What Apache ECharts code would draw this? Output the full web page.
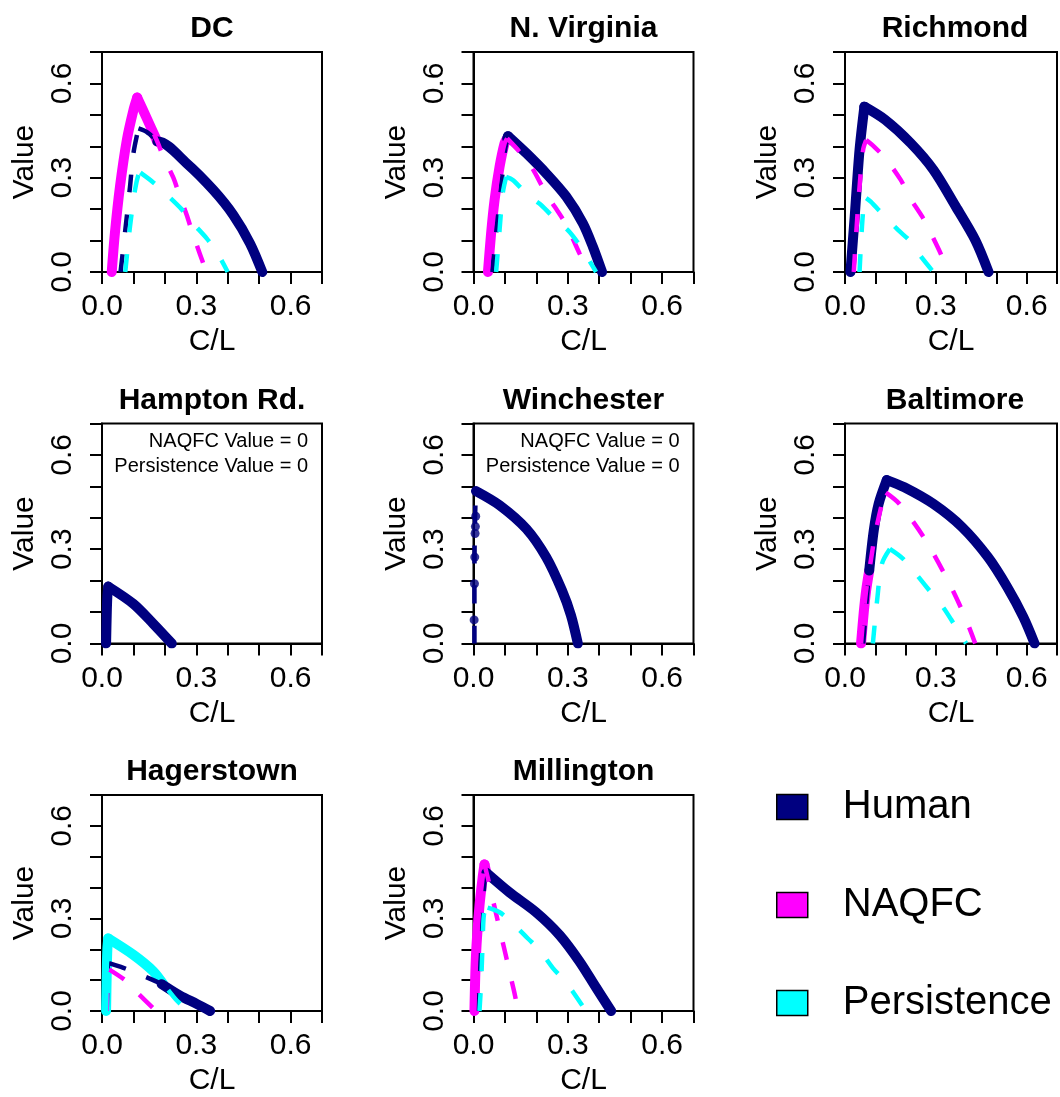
<!DOCTYPE html>
<html>
<head>
<meta charset="utf-8">
<script src="https://cdn.jsdelivr.net/npm/echarts@6/dist/echarts.min.js"></script>
<style>
html,body{margin:0;padding:0;background:#fff;}
#chart{width:1060px;height:1097px;}
</style>
</head>
<body>
<div id="chart"></div>
<script>
// ---------- DATA ----------
const panelNames = ['DC', 'N. Virginia', 'Richmond', 'Hampton Rd.', 'Winchester', 'Baltimore', 'Hagerstown', 'Millington'];
const modelNames = ['Human', 'NAQFC', 'Persistence'];
const tickValues = [0, 0.3, 0.6];
const tickLabels = ['0.0', '0.3', '0.6'];
const zeroValueNote = 'NAQFC Value = 0\nPersistence Value = 0';

// DC
const dcHuman = [[0.059,0],[0.073,0.123],[0.089,0.27],[0.1,0.378],[0.116,0.457],[0.142,0.446],[0.179,0.415],[0.269,0.346],[0.354,0.261],[0.418,0.181],[0.471,0.091],[0.51,0]];
const dcNaqfc = [[0.031,0],[0.041,0.123],[0.057,0.27],[0.079,0.42],[0.1,0.515],[0.112,0.555],[0.142,0.49],[0.176,0.415],[0.195,0.367],[0.227,0.3],[0.248,0.24],[0.269,0.183],[0.29,0.118],[0.312,0.056],[0.332,0]];
const dcPers = [[0.074,0],[0.089,0.144],[0.105,0.261],[0.116,0.31],[0.122,0.316],[0.163,0.285],[0.206,0.246],[0.253,0.2],[0.288,0.157],[0.333,0.107],[0.365,0.064],[0.40,0]];
const dcEnvNaqfc = [[0.031,0],[0.041,0.123],[0.057,0.27],[0.079,0.42],[0.1,0.515],[0.112,0.555],[0.142,0.49],[0.176,0.415]];
const dcEnvHuman = [[0.176,0.415],[0.179,0.415],[0.269,0.346],[0.354,0.261],[0.418,0.181],[0.471,0.091],[0.51,0]];

// N. Virginia
const nvHuman = [[0.059,0],[0.072,0.123],[0.088,0.271],[0.099,0.378],[0.107,0.425],[0.11,0.432],[0.168,0.378],[0.231,0.314],[0.295,0.24],[0.348,0.155],[0.38,0.08],[0.409,0]];
const nvNaqfc = [[0.046,0],[0.056,0.123],[0.067,0.229],[0.083,0.335],[0.099,0.41],[0.107,0.425],[0.146,0.383],[0.184,0.335],[0.231,0.25],[0.295,0.15],[0.337,0.06],[0.369,0]];
const nvPers = [[0.072,0],[0.083,0.134],[0.093,0.25],[0.104,0.303],[0.125,0.293],[0.178,0.24],[0.215,0.213],[0.263,0.165],[0.305,0.128],[0.348,0.07],[0.38,0.017],[0.39,0]];
const nvEnvNaqfc = [[0.046,0],[0.056,0.123],[0.067,0.229],[0.083,0.335],[0.099,0.41],[0.107,0.425]];
const nvEnvHuman = [[0.107,0.425],[0.11,0.432],[0.168,0.378],[0.231,0.314],[0.295,0.24],[0.348,0.155],[0.38,0.08],[0.409,0]];

// Richmond
const riHuman = [[0.018,0],[0.032,0.176],[0.048,0.388],[0.064,0.526],[0.133,0.484],[0.217,0.41],[0.292,0.325],[0.366,0.208],[0.43,0.102],[0.474,0]];
const riNaqfc = [[0.029,0],[0.037,0.123],[0.048,0.27],[0.06,0.39],[0.07,0.42],[0.095,0.40],[0.133,0.362],[0.184,0.293],[0.212,0.24],[0.255,0.176],[0.281,0.128],[0.318,0.054],[0.34,0]];
const riPers = [[0.048,0],[0.056,0.144],[0.064,0.229],[0.07,0.235],[0.085,0.224],[0.127,0.181],[0.175,0.134],[0.217,0.096],[0.255,0.044],[0.292,0]];
const riEnvHuman = riHuman;

// Hampton Rd.
const hrHuman = [[0.013,0],[0.015,0.09],[0.017,0.15],[0.02,0.181],[0.1,0.126],[0.163,0.063],[0.222,0]];
const hrEnvHuman = hrHuman;

// Winchester
const wiHuman = [[0.003,0],[0.003,0.2],[0.004,0.35],[0.006,0.44],[0.008,0.485],[0.083,0.44],[0.168,0.365],[0.231,0.275],[0.281,0.17],[0.31,0.09],[0.332,0]];
const wiEnvHuman = [[0.008,0.485],[0.083,0.44],[0.168,0.365],[0.231,0.275],[0.281,0.17],[0.31,0.09],[0.332,0]];
const wiEnvDots = [[0.002,0.075],[0.003,0.19],[0.004,0.275],[0.005,0.35],[0.006,0.372],[0.007,0.405]];

// Baltimore
const baHuman = [[0.06,0],[0.07,0.12],[0.08,0.232],[0.095,0.36],[0.111,0.444],[0.138,0.52],[0.196,0.497],[0.292,0.444],[0.387,0.37],[0.472,0.275],[0.536,0.179],[0.589,0.084],[0.626,0]];
const baNaqfc = [[0.053,0],[0.062,0.1],[0.07,0.17],[0.08,0.232],[0.1,0.35],[0.122,0.444],[0.135,0.48],[0.18,0.444],[0.26,0.338],[0.334,0.211],[0.392,0.094],[0.43,0]];
const baPers = [[0.092,0],[0.106,0.137],[0.122,0.254],[0.148,0.301],[0.191,0.27],[0.239,0.216],[0.27,0.179],[0.324,0.115],[0.35,0.077],[0.387,0.02],[0.40,0]];
const baEnvNaqfc = [[0.053,0],[0.062,0.1],[0.07,0.17],[0.08,0.232]];
const baEnvHuman = [[0.08,0.232],[0.095,0.36],[0.111,0.444],[0.138,0.52],[0.196,0.497],[0.292,0.444],[0.387,0.37],[0.472,0.275],[0.536,0.179],[0.589,0.084],[0.626,0]];

// Hagerstown
const haHuman = [[0.015,0],[0.017,0.1],[0.019,0.15],[0.022,0.155],[0.068,0.14],[0.121,0.118],[0.19,0.087],[0.248,0.05],[0.301,0.023],[0.344,0]];
const haNaqfc = [[0.015,0],[0.017,0.09],[0.019,0.13],[0.022,0.135],[0.076,0.098],[0.112,0.06],[0.172,0]];
const haPers = [[0.013,0],[0.015,0.12],[0.017,0.2],[0.02,0.235],[0.1,0.182],[0.163,0.129],[0.2,0.082],[0.238,0.034],[0.275,0]];
const haEnvPers = [[0.013,0],[0.015,0.12],[0.017,0.2],[0.02,0.235],[0.1,0.182],[0.163,0.129],[0.195,0.087]];
const haEnvHuman = [[0.19,0.087],[0.248,0.05],[0.301,0.023],[0.344,0]];

// Millington
const miHuman = [[0.014,0],[0.022,0.15],[0.03,0.33],[0.036,0.43],[0.041,0.448],[0.115,0.384],[0.199,0.32],[0.274,0.246],[0.337,0.161],[0.39,0.076],[0.438,0]];
const miNaqfc = [[0.003,0],[0.008,0.182],[0.019,0.341],[0.03,0.44],[0.035,0.475],[0.046,0.43],[0.056,0.385],[0.072,0.315],[0.088,0.245],[0.104,0.175],[0.115,0.125],[0.13,0.06],[0.142,0]];
const miPers = [[0.019,0],[0.024,0.087],[0.028,0.193],[0.032,0.3],[0.037,0.33],[0.045,0.335],[0.083,0.32],[0.12,0.289],[0.173,0.235],[0.21,0.198],[0.252,0.14],[0.295,0.092],[0.332,0.039],[0.358,0]];
const miEnvNaqfc = [[0.003,0],[0.008,0.182],[0.019,0.341],[0.03,0.44],[0.035,0.475],[0.041,0.448]];
const miEnvHuman = [[0.041,0.448],[0.115,0.384],[0.199,0.32],[0.274,0.246],[0.337,0.161],[0.39,0.076],[0.438,0]];

// table built from the arrays above
const panels = [
  {curves: {Human: dcHuman, NAQFC: dcNaqfc, Persistence: dcPers}, env: [['NAQFC', dcEnvNaqfc], ['Human', dcEnvHuman]]},
  {curves: {Human: nvHuman, NAQFC: nvNaqfc, Persistence: nvPers}, env: [['NAQFC', nvEnvNaqfc], ['Human', nvEnvHuman]]},
  {curves: {Human: riHuman, NAQFC: riNaqfc, Persistence: riPers}, env: [['Human', riEnvHuman]]},
  {curves: {Human: hrHuman}, env: [['Human', hrEnvHuman]], note: true},
  {curves: {Human: wiHuman}, env: [['Human', wiEnvHuman]], dots: [['Human', wiEnvDots]], note: true},
  {curves: {Human: baHuman, NAQFC: baNaqfc, Persistence: baPers}, env: [['NAQFC', baEnvNaqfc], ['Human', baEnvHuman]]},
  {curves: {Human: haHuman, NAQFC: haNaqfc, Persistence: haPers}, env: [['Persistence', haEnvPers], ['Human', haEnvHuman]]},
  {curves: {Human: miHuman, NAQFC: miNaqfc, Persistence: miPers}, env: [['NAQFC', miEnvNaqfc], ['Human', miEnvHuman]]}
];

// ---------- STYLE / LAYOUT ----------
const COLOR = {Human: '#000080', NAQFC: '#FF00FF', Persistence: '#00FFFF'};
const FONT = 'Liberation Sans, Arial, Helvetica, sans-serif';
const GX0 = 102, GY0 = 52, GSTEP = 371.5, GSIZE = 220;
const FS = 30;
const SMOOTH = 0.3;

function tickFmt(v) {
  const i = tickValues.findIndex(t => Math.abs(t - v) < 1e-6);
  return i >= 0 ? tickLabels[i] : '';
}

// split a read-off curve at its peak so each side can be smoothed without rounding the kink
function splitAtPeak(d) {
  let k = 0;
  d.forEach((p, j) => { if (p[1] > d[k][1]) k = j; });
  if (k > 0 && k < d.length - 1) return [d.slice(0, k + 1), d.slice(k)];
  return [d];
}

const grids = [], xAxes = [], yAxes = [], titles = [], series = [];
panelNames.forEach((name, i) => {
  const left = GX0 + GSTEP * (i % 3);
  const top = GY0 + GSTEP * Math.floor(i / 3);
  grids.push({left: left, top: top, width: GSIZE, height: GSIZE, show: true, borderColor: '#000', borderWidth: 2, backgroundColor: 'transparent', containLabel: false});
  const common = {
    gridIndex: i, type: 'value', min: 0, max: 0.7, interval: 0.1,
    splitLine: {show: false},
    axisLine: {show: true, onZero: false, lineStyle: {color: '#000', width: 2}},
    axisTick: {show: true, inside: false, length: 12, lineStyle: {color: '#000', width: 2}},
    nameLocation: 'middle',
    nameTextStyle: {fontSize: FS, color: '#000', fontFamily: FONT}
  };
  xAxes.push(Object.assign({}, common, {
    position: 'bottom', name: 'C/L', nameGap: 55,
    axisLabel: {formatter: tickFmt, fontSize: FS, color: '#000', fontFamily: FONT, margin: 20, showMinLabel: true, showMaxLabel: true}
  }));
  yAxes.push(Object.assign({}, common, {
    position: 'left', name: 'Value', nameGap: 62, nameRotate: 90,
    axisLabel: {formatter: tickFmt, fontSize: FS, color: '#000', fontFamily: FONT, margin: 24, rotate: 90, showMinLabel: true, showMaxLabel: true}
  }));
  titles.push({text: name, left: left + GSIZE / 2, top: top - 38, textAlign: 'center', padding: 0,
    textStyle: {fontSize: FS, fontWeight: 'bold', color: '#000', fontFamily: FONT}});
  const p = panels[i];
  if (p.note) {
    titles.push({text: zeroValueNote, left: left + GSIZE - 14, top: top + 5, textAlign: 'right', padding: 0,
      textStyle: {fontSize: 20, fontWeight: 'normal', color: '#000', fontFamily: FONT, lineHeight: 25, align: 'right'}});
  }
  p.env.forEach(([m, d]) => {
    splitAtPeak(d).forEach(part => {
      series.push({type: 'line', name: m, xAxisIndex: i, yAxisIndex: i, data: part, symbol: 'none', showSymbol: false,
        smooth: SMOOTH,
        lineStyle: {color: COLOR[m], width: 10, cap: 'round', join: 'round'}, itemStyle: {color: COLOR[m]}, z: 2, silent: true});
    });
  });
  (p.dots || []).forEach(([m, d]) => {
    series.push({type: 'scatter', name: m, xAxisIndex: i, yAxisIndex: i, data: d, symbol: 'circle', symbolSize: 9,
      itemStyle: {color: COLOR[m]}, z: 2, silent: true});
  });
  modelNames.forEach(m => {
    const d = p.curves[m];
    if (!d) return;
    splitAtPeak(d).forEach(part => {
      series.push({type: 'line', name: m, xAxisIndex: i, yAxisIndex: i, data: part, symbol: 'none', showSymbol: false,
        smooth: SMOOTH,
        lineStyle: {color: COLOR[m], width: 4.5, type: [18, 22], cap: 'butt'}, itemStyle: {color: COLOR[m]}, z: 3, silent: true});
    });
  });
});

const chart = echarts.init(document.getElementById('chart'), null, {renderer: 'canvas'});
chart.setOption({
  animation: false,
  backgroundColor: '#fff',
  title: titles,
  grid: grids,
  xAxis: xAxes,
  yAxis: yAxes,
  legend: {
    left: 771, top: 782, orient: 'vertical', selectedMode: false,
    itemWidth: 31, itemHeight: 25, itemGap: 58, icon: 'rect',
    itemStyle: {borderColor: '#000', borderWidth: 1.5},
    textStyle: {fontSize: 40, color: '#000', fontFamily: FONT, padding: [0, 0, 0, 30]},
    data: modelNames.map(m => ({name: m, icon: 'rect', itemStyle: {color: COLOR[m], borderColor: '#000', borderWidth: 1.5}}))
  },
  series: series
});
</script>
</body>
</html>
